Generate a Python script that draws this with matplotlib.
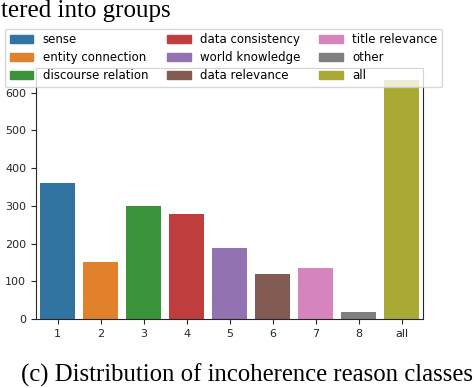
import matplotlib.pyplot as plt
from matplotlib.patches import Patch

classes = ["1", "2", "3", "4", "5", "6", "7", "8", "all"]
counts = [360, 151, 300, 279, 188, 120, 135, 19, 634]
labels = ["sense", "entity connection", "discourse relation", "data consistency",
          "world knowledge", "data relevance", "title relevance", "other", "all"]
colors = ["#3274a1", "#e1812c", "#3a923a", "#c03d3e", "#9372b2",
          "#845b53", "#d684bd", "#7f7f7f", "#a9aa35"]

fig = plt.figure(figsize=(4.74, 3.88), dpi=100)
ax = fig.add_axes([36 / 474, 1 - 319 / 388, 387 / 474, 251 / 388])

ax.bar(range(len(classes)), counts, width=0.8, color=colors)
ax.set_xlim(-0.5, len(classes) - 0.5)
ax.set_ylim(0, max(counts) * 1.05)
ax.set_xticks(range(len(classes)))
ax.set_xticklabels(classes)
ax.set_yticks([0, 100, 200, 300, 400, 500, 600])
ax.tick_params(labelsize=8, colors="#262626", length=3.5)
for s in ax.spines.values():
    s.set_color("#262626")

handles = [Patch(color=c) for c in colors]
fig.legend(handles, labels, ncol=3, loc="lower left",
           bbox_to_anchor=(5 / 474, 1 - 87 / 388, 437 / 474, 55 / 388),
           mode="expand", fontsize=8.5, handlelength=2.0, labelspacing=0.42,
           borderaxespad=0, framealpha=0.8, edgecolor="#cccccc")

# caption text from the surrounding paper page
fig.text(0.002, 1 - 17 / 388, "tered into groups", family="Liberation Serif",
         fontsize=18, va="baseline", ha="left")
fig.text(21 / 474, 1 - 382 / 388, "(c) Distribution of incoherence reason classes",
         family="Liberation Serif", fontsize=17.8, va="baseline", ha="left")

fig.savefig("out.png", dpi=100)
